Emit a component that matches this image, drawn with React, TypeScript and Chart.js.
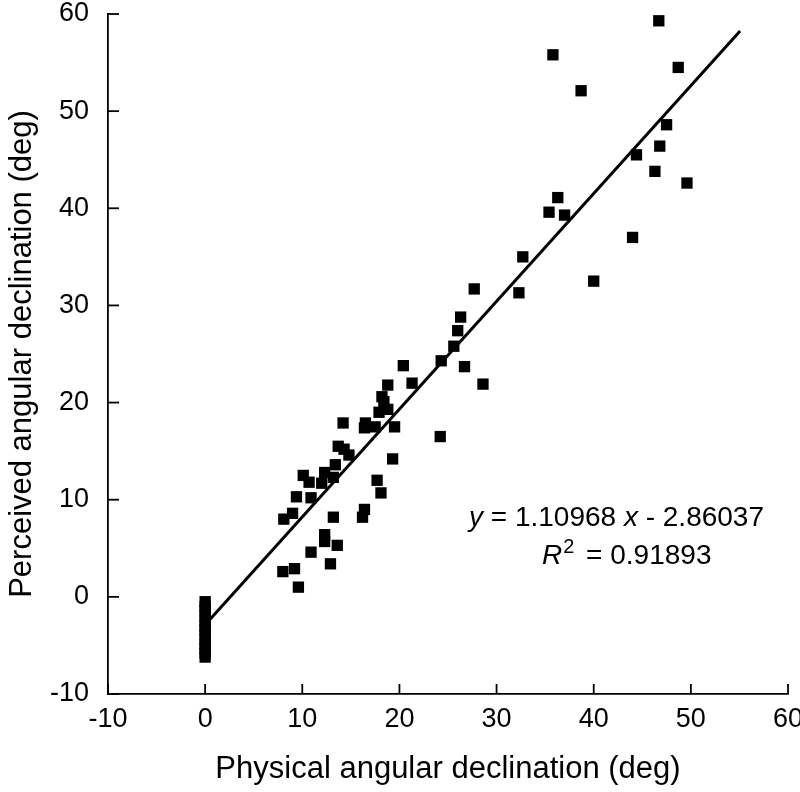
import React, { useEffect, useRef } from "react";
import { Chart, registerables } from "chart.js";

Chart.register(...registerables);

// Scatter observations: physical vs perceived angular declination (deg)
const physicalX: number[] = [
  46.7, 35.8, 48.7, 38.7, 47.5, 46.8, 44.4, 46.3, 49.6, 36.3,
  35.4, 37.0, 44.0, 32.7, 40.0, 27.7, 32.3, 26.3, 26.0, 25.6,
  24.3, 20.4, 26.7, 28.6, 18.8, 21.3, 18.2, 18.4, 17.9, 18.8,
  14.2, 16.5, 16.4, 17.5, 19.5, 24.2, 13.7, 14.3, 14.8, 19.3,
  13.4, 10.1, 10.7, 12.3, 13.2, 12.0, 17.7, 18.1, 9.4, 10.9,
  9.0, 8.1, 13.2, 16.4, 16.2, 12.3, 12.3, 13.6, 10.9, 12.9,
  9.2, 8.0, 9.6,
  0, 0, 0, 0, 0, 0, 0, 0, 0, 0, 0, 0, 0,
];
const perceivedY: number[] = [
  59.3, 55.8, 54.5, 52.1, 48.6, 46.4, 45.5, 43.8, 42.6, 41.1,
  39.6, 39.3, 37.0, 35.0, 32.5, 31.7, 31.3, 28.8, 27.4, 25.8,
  24.3, 23.8, 23.7, 21.9, 21.8, 22.0, 20.6, 20.1, 19.0, 19.3,
  17.9, 17.9, 17.4, 17.5, 17.5, 16.5, 15.5, 15.2, 14.6, 14.2,
  13.6, 12.5, 11.8, 12.8, 12.3, 11.7, 12.0, 10.7, 10.3, 10.2,
  8.6, 8.0, 8.2, 9.0, 8.2, 6.4, 5.7, 5.3, 4.6, 3.4,
  2.9, 2.6, 1.0,
  -0.5, -1.0, -1.4, -2.0, -2.5, -3.0, -3.4, -3.9, -4.4, -4.9, -5.3, -5.8, -6.2,
];

// Regression line endpoints
const fitX: number[] = [0, 55.07];
const fitY: number[] = [-2.86, 58.25];

const axisMin = -10;
const axisMax = 60;
const axisStep = 10;

const xTitle = "Physical angular declination (deg)";
const yTitle = "Perceived angular declination (deg)";
const eqLine1: [string, boolean][] = [
  ["y", true],
  [" = 1.10968 ", false],
  ["x", true],
  [" - 2.86037", false],
];
const eqLine2Pre = "R";
const eqLine2Sup = "2";
const eqLine2Post = " = 0.91893";

const FONT = "'Liberation Sans', Arial, sans-serif";

export default function App() {
  const ref = useRef<HTMLCanvasElement | null>(null);

  useEffect(() => {
    document.body.style.margin = "0";
    const canvas = ref.current;
    if (!canvas) return;

    const innerTicks = {
      id: "innerTicks",
      afterDatasetsDraw(chart: any) {
        const ctx = chart.ctx;
        const xs = chart.scales.x;
        const ys = chart.scales.y;
        const area = chart.chartArea;
        ctx.save();
        ctx.strokeStyle = "#000";
        ctx.lineWidth = 1.8;
        for (let v = axisMin; v <= axisMax; v += axisStep) {
          const px = xs.getPixelForValue(v);
          ctx.beginPath();
          ctx.moveTo(px, area.bottom);
          ctx.lineTo(px, area.bottom - 10);
          ctx.stroke();
          const py = ys.getPixelForValue(v);
          ctx.beginPath();
          ctx.moveTo(area.left, py);
          ctx.lineTo(area.left + 11, py);
          ctx.stroke();
        }
        // equation text
        ctx.fillStyle = "#000";
        ctx.textBaseline = "middle";
        ctx.textAlign = "left";
        let x = area.right - 319;
        const y1 = ys.getPixelForValue(8.1);
        for (const [t, it] of eqLine1) {
          ctx.font = `${it ? "italic " : ""}28px ${FONT}`;
          ctx.fillText(t, x, y1);
          x += ctx.measureText(t).width;
        }
        const y2 = ys.getPixelForValue(4.2);
        x = area.right - 246;
        ctx.font = `italic 28px ${FONT}`;
        ctx.fillText(eqLine2Pre, x, y2);
        x += ctx.measureText(eqLine2Pre).width + 1;
        ctx.font = `20px ${FONT}`;
        ctx.fillText(eqLine2Sup, x, y2 - 9);
        x += ctx.measureText(eqLine2Sup).width + 4;
        ctx.font = `28px ${FONT}`;
        ctx.fillText(eqLine2Post, x, y2);
        ctx.restore();
      },
    };

    const chart = new Chart(canvas, {
      type: "scatter",
      data: {
        datasets: [
          {
            type: "scatter",
            data: physicalX.map((x, i) => ({ x, y: perceivedY[i] })),
            pointStyle: "rect",
            pointRadius: 8,
            pointBorderWidth: 0,
            backgroundColor: "#000",
            borderColor: "#000",
          } as any,
          {
            type: "line",
            data: fitX.map((x, i) => ({ x, y: fitY[i] })),
            borderColor: "#000",
            borderWidth: 3,
            pointRadius: 0,
            fill: false,
          } as any,
        ],
      },
      options: {
        animation: false,
        responsive: false,
        devicePixelRatio: 1,
        layout: { padding: { top: 14, right: 12, left: 0, bottom: 0 } },
        plugins: { legend: { display: false }, tooltip: { enabled: false } },
        scales: {
          x: {
            type: "linear",
            min: axisMin,
            max: axisMax,
            ticks: {
              stepSize: axisStep,
              color: "#000",
              padding: 9,
              font: { family: FONT, size: 27 },
              maxRotation: 0,
            },
            grid: { display: true, drawOnChartArea: false, drawTicks: false },
            border: { display: true, color: "#000", width: 1.8 },
            title: {
              display: true,
              text: xTitle,
              color: "#000",
              font: { family: FONT, size: 31 },
            },
            afterFit(s: any) {
              s.height = 98;
              s.paddingLeft = 0;
              s.paddingRight = 0;
            },
          },
          y: {
            type: "linear",
            min: axisMin,
            max: axisMax,
            ticks: {
              stepSize: axisStep,
              color: "#000",
              padding: 19,
              font: { family: FONT, size: 27 },
            },
            grid: { display: true, drawOnChartArea: false, drawTicks: false },
            border: { display: true, color: "#000", width: 1.8 },
            title: {
              display: true,
              text: yTitle,
              color: "#000",
              font: { family: FONT, size: 31 },
            },
            afterFit(s: any) {
              s.width = 108;
              s.paddingTop = 0;
              s.paddingBottom = 0;
            },
          },
        },
      },
      plugins: [innerTicks],
    });

    return () => chart.destroy();
  }, []);

  return (
    <div style={{ width: 800, height: 792 }}>
      <canvas ref={ref} width={800} height={792} style={{ width: 800, height: 792, display: "block" }} />
    </div>
  );
}
